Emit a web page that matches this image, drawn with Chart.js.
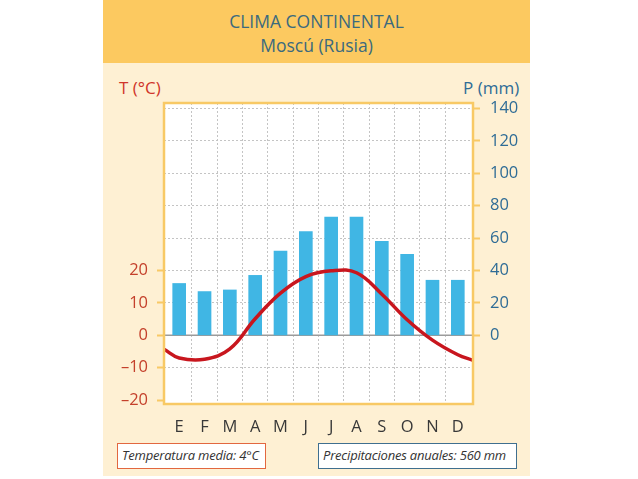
<!DOCTYPE html>
<html>
<head>
<meta charset="utf-8">
<script src="https://cdn.jsdelivr.net/npm/chart.js@4.4.1/dist/chart.umd.min.js"></script>
<style>
  html, body { margin:0; padding:0; background:#ffffff; }
  body { width:638px; height:479px; position:relative; overflow:hidden; font-family:"Open Sans", sans-serif; }
  #panel { position:absolute; left:103px; top:0; width:427px; height:476px; background:#fef0d3; }
  #header { position:absolute; left:103px; top:0; width:427px; height:63px; background:#fcc960; }
  .title { position:absolute; left:103px; width:427px; text-align:center; color:#3b6a7e; font-size:17.5px; line-height:20px; }
  .axtitle { position:absolute; font-size:17px; line-height:20px; }
  canvas { position:absolute; left:0; top:0; }
  .box { position:absolute; top:443px; height:26px; background:#ffffff; font-style:italic; font-size:13px; letter-spacing:-0.2px; line-height:23px; color:#333; padding-left:4px; box-sizing:border-box; white-space:nowrap; }
</style>
</head>
<body>
<div id="panel"></div>
<div id="header"></div>
<div class="title" style="top:11px;">CLIMA CONTINENTAL</div>
<div class="title" style="top:35px;">Moscú (Rusia)</div>
<div class="axtitle" style="left:119px; top:78px; color:#d0352a;">T (°C)</div>
<div class="axtitle" style="left:463px; top:78px; color:#2f6c96;">P (mm)</div>
<canvas id="c" width="638" height="479"></canvas>
<div class="box" style="left:117px; width:149px; border:1.5px solid #e2673f;">Temperatura media: 4°C</div>
<div class="box" style="left:318px; width:199px; border:1.5px solid #3f6f8f;">Precipitaciones anuales: 560 mm</div>
<script>
// ---- data ----
const months = ['E','F','M','A','M','J','J','A','S','O','N','D'];
const precip = [32, 27, 28, 37, 52, 64, 73, 73, 58, 50, 34, 34];          // mm
const temp   = [-7.0, -7.4, -4.2, 5.1, 13.0, 18.1, 19.9, 19.3, 12.7, 4.8, -1.5, -6.0]; // °C
const tempEdges = [-4.3, -7.7];   // curve value where it meets the left / right frame
const tempTicks = [-20, -10, 0, 10, 20, 30, 40, 50, 60, 70];
const tempLabelMax = 20;
const precipTicks = [0, 20, 40, 60, 80, 100, 120, 140];

// ---- layout constants ----
const X_MIN = -0.6, X_MAX = 11.6;
const T_MIN = -21.2, T_MAX = 71.7;
const ORANGE = '#f8c965';
const GRID = '#c4c4c4';

const tempPoints = [{x:X_MIN, y:tempEdges[0]}]
  .concat(temp.map((v,i)=>({x:i, y:v})))
  .concat([{x:X_MAX, y:tempEdges[1]}]);

const framePlugin = {
  id:'frame',
  beforeDraw(chart){
    const {ctx, chartArea:a} = chart;
    ctx.save(); ctx.fillStyle='#ffffff';
    ctx.fillRect(a.left, a.top, a.right-a.left, a.bottom-a.top);
    ctx.restore();
  },
  afterDatasetsDraw(chart){
    const {ctx, chartArea:a} = chart;
    ctx.save(); ctx.strokeStyle=ORANGE; ctx.lineWidth=2.5;
    ctx.strokeRect(a.left, a.top, a.right-a.left, a.bottom-a.top);
    ctx.restore();
  }
};

const fmtT = v => v < 0 ? '\u2013' + Math.abs(v) : String(v);

new Chart(document.getElementById('c'), {
  type:'bar',
  data:{
    datasets:[
      { type:'line', label:'T', data:tempPoints, xAxisID:'x', yAxisID:'y',
        borderColor:'#c8161e', borderWidth:3.5, pointRadius:0, tension:0.4, fill:false, order:0 },
      { type:'bar', label:'P', data:precip.map((v,i)=>({x:i, y:v})), xAxisID:'x', yAxisID:'y2',
        backgroundColor:'#40b6e4', barThickness:13, order:1 },
      { type:'line', label:'zero', data:[{x:X_MIN,y:0},{x:X_MAX,y:0}], xAxisID:'x', yAxisID:'y',
        borderColor:'#9b9b9b', borderWidth:1.5, pointRadius:0, tension:0, order:2 }
    ]
  },
  options:{
    responsive:false, animation:false, devicePixelRatio:1,
    layout:{ padding:{ top:103, left:0, right:0, bottom:0 } },
    plugins:{ legend:{display:false}, tooltip:{enabled:false} },
    scales:{
      x:{ type:'linear', position:'bottom', min:X_MIN, max:X_MAX, offset:false,
          afterBuildTicks: s => { s.ticks = months.map((m,i)=>({value:i})); },
          afterFit: s => { s.height = 75; },
          ticks:{ autoSkip:false, maxRotation:0, padding:13, color:'#383838',
                  font:{ family:'Open Sans', size:16.5 },
                  callback: v => months[v] },
          grid:{ display:false, drawTicks:false, offset:false },
          border:{ display:false } },
      x2:{ type:'linear', position:'bottom', min:X_MIN, max:X_MAX, offset:false,
          afterBuildTicks: s => { s.ticks = months.slice(1).map((m,i)=>({value:i+0.5})); },
          afterFit: s => { s.height = 0; },
          ticks:{ display:false },
          grid:{ display:true, drawTicks:false, offset:false, color:GRID, lineWidth:1 },
          border:{ display:false, dash:[2,2] } },
      y:{ type:'linear', position:'left', min:T_MIN, max:T_MAX,
          afterBuildTicks: s => { s.ticks = tempTicks.map(v=>({value:v})); },
          afterFit: s => { s.width = 164; },
          ticks:{ autoSkip:false, padding:9, color:'#c4402b',
                  font:{ family:'Open Sans', size:16.5 },
                  callback: v => v <= tempLabelMax ? fmtT(v) : '' },
          grid:{ display:true, drawTicks:true, tickLength:7, tickWidth:2,
                 color: c => (c.tick && c.tick.value === -20) ? 'rgba(0,0,0,0)' : GRID,
                 tickColor: c => (c.tick && c.tick.value <= tempLabelMax) ? ORANGE : 'rgba(0,0,0,0)',
                 lineWidth:1 },
          border:{ display:false, dash:[2,2] } },
      y2:{ type:'linear', position:'right', min:T_MIN*2, max:T_MAX*2,
          afterBuildTicks: s => { s.ticks = precipTicks.map(v=>({value:v})); },
          afterFit: s => { s.width = 165; },
          ticks:{ autoSkip:false, padding:10, color:'#2f6c96',
                  font:{ family:'Open Sans', size:16.5 } },
          grid:{ display:true, drawOnChartArea:false, drawTicks:true, tickLength:7, tickWidth:2, tickColor:ORANGE },
          border:{ display:false } }
    }
  },
  plugins:[framePlugin]
});
</script>
</body>
</html>
